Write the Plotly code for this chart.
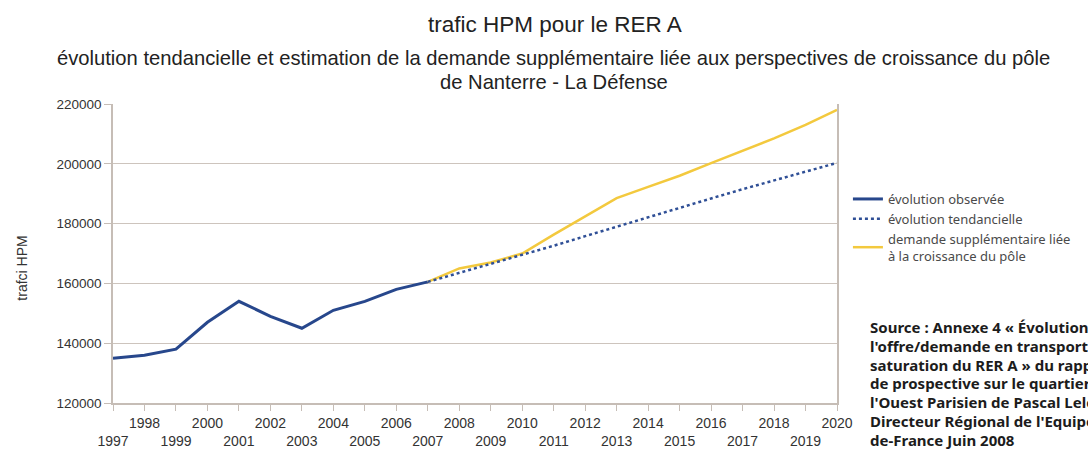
import plotly.graph_objects as go

years_obs = [1997, 1998, 1999, 2000, 2001, 2002, 2003, 2004, 2005, 2006, 2007]
trafic_obs = [135000, 136000, 138000, 147000, 154000, 149000, 145000, 151000, 154000, 158000, 160500]

years_proj = [2007, 2008, 2009, 2010, 2011, 2012, 2013, 2014, 2015, 2016, 2017, 2018, 2019, 2020]
trafic_tend = [160500, 163500, 166500, 169500, 172600, 175800, 179000, 182100, 185300, 188400, 191500, 194500, 197500, 200300]
trafic_dem = [160500, 165000, 167000, 170000, 176300, 182400, 188500, 192300, 196000, 200200, 204300, 208500, 213000, 218000]

tick_years = list(range(1997, 2021))
tick_text = [str(y) if y % 2 == 0 else "<br>" + str(y) for y in tick_years]
y_ticks = [120000, 140000, 160000, 180000, 200000, 220000]

title_text = "trafic HPM pour le RER A"
subtitle_lines = ["évolution tendancielle et estimation de la demande supplémentaire liée aux perspectives de croissance du pôle",
                  "de Nanterre - La Défense"]
ytitle = "trafci HPM"
source_lines = ["Source : Annexe 4 « Évolution de",
                "l'offre/demande en transports et",
                "saturation du RER A » du rapport",
                "de prospective sur le quartier de",
                "l'Ouest Parisien de Pascal Lelong,",
                "Directeur Régional de l'Equipement d'Ile-",
                "de-France Juin 2008"]

# plot-area geometry in pixels (used only for placing texts)
L, R, T, B = 113, 842, 104, 403
PW, PH = R - L, B - T


def px_x(x):
    return (x - L) / PW


def px_y(y):
    return (B - y) / PH


fig = go.Figure()
fig.add_trace(go.Scatter(x=years_obs, y=trafic_obs, mode="lines", name="évolution observée",
                         legendrank=1, line=dict(color="#27478c", width=3)))
fig.add_trace(go.Scatter(x=years_proj, y=trafic_dem, mode="lines",
                         name="demande supplémentaire liée<br>à la croissance du pôle",
                         legendrank=3, line=dict(color="#f3c93e", width=2.5)))
fig.add_trace(go.Scatter(x=years_proj, y=trafic_tend, mode="lines", name="évolution tendancielle",
                         legendrank=2, line=dict(color="#2f4f96", width=2.5, dash="dot")))

fig.update_layout(
    width=1088, height=452,
    margin=dict(l=L, r=1088 - R, t=T, b=452 - B),
    paper_bgcolor="white", plot_bgcolor="white",
    font=dict(family="Liberation Sans, Arial, sans-serif", color="#333333"),
    showlegend=True,
    legend=dict(x=px_x(853), xanchor="left", y=px_y(184), yanchor="top",
                font=dict(family="Noto Sans, sans-serif", size=13, color="#4a4a4a"),
                itemwidth=30, tracegroupgap=0, bgcolor="rgba(0,0,0,0)"),
    xaxis=dict(range=[1997, 2020], tickmode="array", tickvals=tick_years, ticktext=tick_text,
               showgrid=False, showline=True, linecolor="#c6bdb6", linewidth=1.5,
               ticks="outside", ticklen=6, tickcolor="#c6bdb6", automargin=False,
               tickfont=dict(size=14, color="#333333"), tickangle=0, zeroline=False),
    yaxis=dict(range=[120000, 220000], tickmode="array", tickvals=y_ticks,
               ticktext=[str(v) for v in y_ticks],
               showgrid=True, gridcolor="#cdc4bd", gridwidth=1.2,
               showline=True, linecolor="#c6bdb6", linewidth=1.5, mirror=True,
               ticks="outside", ticklen=7, tickcolor="#c6bdb6", automargin=False,
               tickfont=dict(size=13.5, color="#333333"), zeroline=False),
)

fig.add_annotation(text=title_text, xref="paper", yref="paper", x=px_x(558), y=px_y(25),
                   showarrow=False, font=dict(size=22.5, color="#222222"), xanchor="center", yanchor="middle")
for line, yc in zip(subtitle_lines, [58, 82]):
    fig.add_annotation(text=line, xref="paper", yref="paper", x=px_x(557), y=px_y(yc),
                       showarrow=False, font=dict(size=20.2, color="#222222"), xanchor="center", yanchor="middle")
fig.add_annotation(text=ytitle, xref="paper", yref="paper", x=px_x(21), y=px_y(268), textangle=-90,
                   showarrow=False, font=dict(size=14, color="#333333"), xanchor="center", yanchor="middle")
for i, line in enumerate(source_lines):
    fig.add_annotation(text=line, xref="paper", yref="paper", x=px_x(873), y=px_y(327 + 18.8 * i),
                       showarrow=False, align="left", xanchor="left", yanchor="middle",
                       font=dict(family="Noto Sans, sans-serif", size=15, color="#1c1c1c", weight="bold"))

fig.write_html("out.html", config={"displayModeBar": False},
               post_script="document.body.style.margin='0';document.body.style.padding='0';")
